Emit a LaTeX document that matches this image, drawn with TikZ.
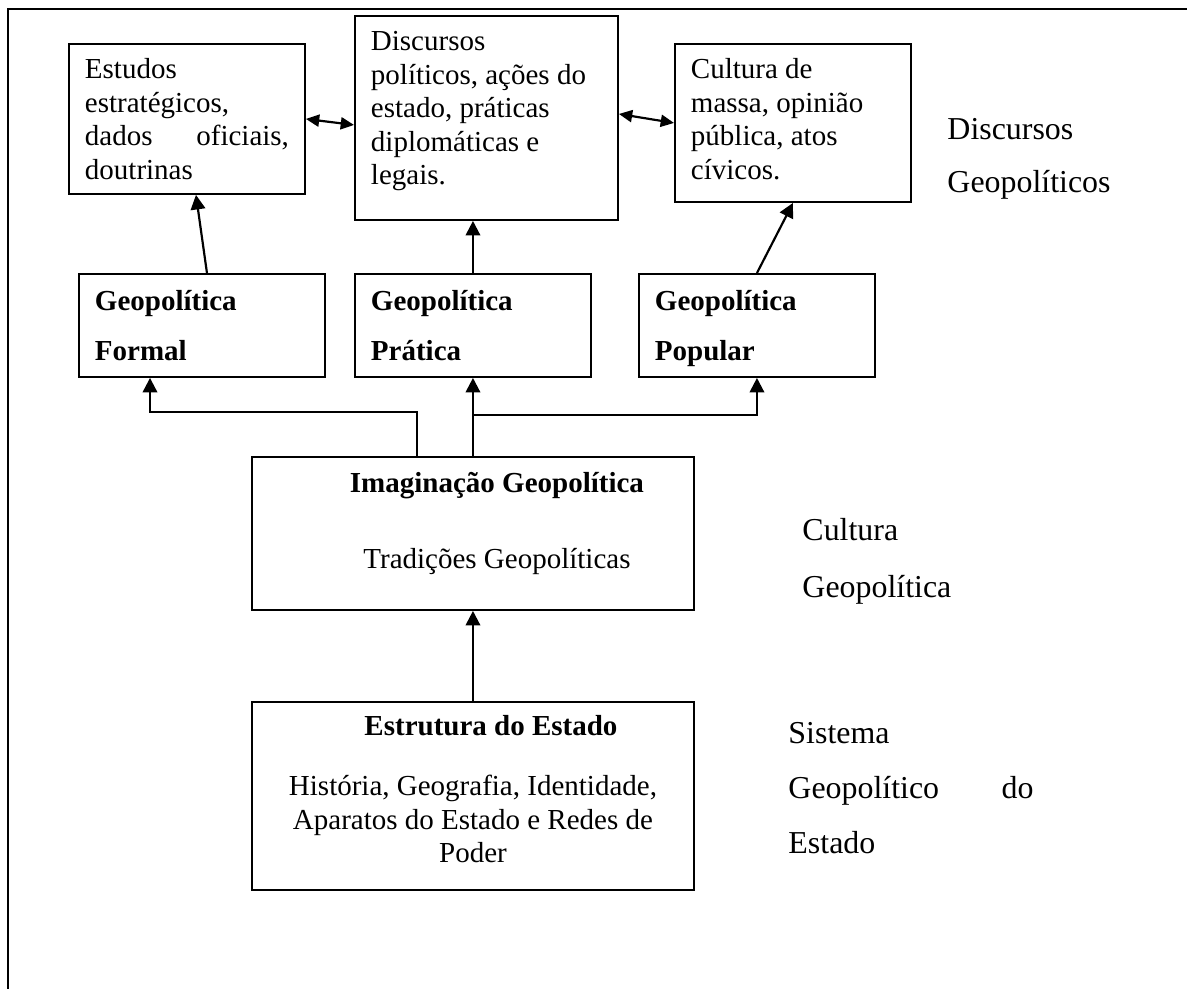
\documentclass[tikz,border=0pt]{standalone}
\usepackage{fontspec}
\setmainfont{Liberation Serif}
\usetikzlibrary{arrows.meta}
\usetikzlibrary{calc}

\newlength\pxu
\setlength\pxu{0.4138pt}

\begin{document}
\begin{tikzpicture}[x=0.4138pt, y=-0.4138pt,
  caixa/.style={draw, line width=0.8pt, inner ysep=0pt, inner xsep=6.62pt, anchor=north west, font=\fontsize{12}{13.86}\selectfont},
  caixabold/.style={caixa, font=\bfseries\fontsize{12}{20.69}\selectfont},
  seta/.style={line width=0.9pt, -{Triangle[length=6pt,width=6pt]}},
  setadupla/.style={line width=0.9pt, {Triangle[length=5.5pt,width=5pt]}-{Triangle[length=5.5pt,width=5pt]}},
  rotulo/.style={inner sep=0pt, anchor=base west, align=left}]

  \useasboundingbox (0,0) rectangle (1187,989);

  % moldura
  \draw[line width=0.8pt] (8,989) -- (8,9) -- (1187,9);

  % discursos
  \node[caixa] (estudos) at (68,43) {\parbox[t][150\pxu][t]{204\pxu}{\rule{0pt}{35\pxu}Estudos\\estratégicos,\\dados\hfill oficiais,\\doutrinas}};
  \node[caixa] (discursos) at (354,15) {\parbox[t][204\pxu][t]{231\pxu}{\rule{0pt}{35\pxu}Discursos\\políticos, ações do\\estado, práticas\\diplomáticas e\\legais.}};
  \node[caixa] (cultura) at (674,43) {\parbox[t][158\pxu][t]{204\pxu}{\rule{0pt}{35\pxu}Cultura de\\massa, opinião\\pública, atos\\cívicos.}};

  % geopoliticas
  \node[caixabold] (formal) at (78,273) {\parbox[t][103\pxu][t]{214\pxu}{\rule{0pt}{37\pxu}Geopolítica\\Formal}};
  \node[caixabold] (pratica) at (354,273) {\parbox[t][103\pxu][t]{204\pxu}{\rule{0pt}{37\pxu}Geopolítica\\Prática}};
  \node[caixabold] (popular) at (638,273) {\parbox[t][103\pxu][t]{204\pxu}{\rule{0pt}{37\pxu}Geopolítica\\Popular}};

  % imaginacao e estrutura
  \node[caixa] (imaginacao) at (251,456) {\parbox[t][153\pxu][t]{410\pxu}{\centering\rule{0pt}{36\pxu}\hspace*{48\pxu}\textbf{Imaginação Geopolítica}\\[42.5\pxu]\hspace*{48\pxu}Tradições Geopolíticas}};
  \node[caixa] (estrutura) at (251,701) {\parbox[t][188\pxu][t]{410\pxu}{\centering\rule{0pt}{34\pxu}\hspace*{36\pxu}\textbf{Estrutura do Estado}\\[26.5\pxu]História, Geografia, Identidade,\\Aparatos do Estado e Redes de\\Poder}};

  % rotulos
  \node[rotulo, text width=80pt, font=\fontsize{13.2}{21.9}\selectfont] (discgeo) at (947,140) {Discursos\\Geopolíticos};
  \node[rotulo, text width=80pt, font=\fontsize{13.2}{23.6}\selectfont] (cultgeo) at (802,540) {Cultura\\Geopolítica};
  \node[rotulo, text width=101.4pt, font=\fontsize{13.2}{22.8}\selectfont] (sistema) at (788,743) {Sistema\\Geopolítico\hfill do\\Estado};

  % setas
  \draw[setadupla] (estudos.east) -- ($(discursos.west)+(0,7)$);
  \draw[setadupla] ($(discursos.east)+(0,-4)$) -- (cultura.west);
  \draw[seta] ($(formal.north)+(5,0)$) -- ($(estudos.south)+(9,0)$);
  \draw[seta] (pratica.north) -- (pratica.north |- discursos.south);
  \draw[seta] (popular.north) -- (cultura.south);

  \coordinate (dobraF) at (150,412);
  \coordinate (dobraP) at (472,415);
  \draw[seta] ($(imaginacao.north)+(-56,0)$) |- (dobraF) -- (dobraF |- formal.south);
  \draw[seta] (imaginacao.north) -- (pratica.south);
  \draw[seta] (dobraP) -| (popular.south);
  \draw[seta] (estrutura.north) -- (imaginacao.south);

\end{tikzpicture}
\end{document}
